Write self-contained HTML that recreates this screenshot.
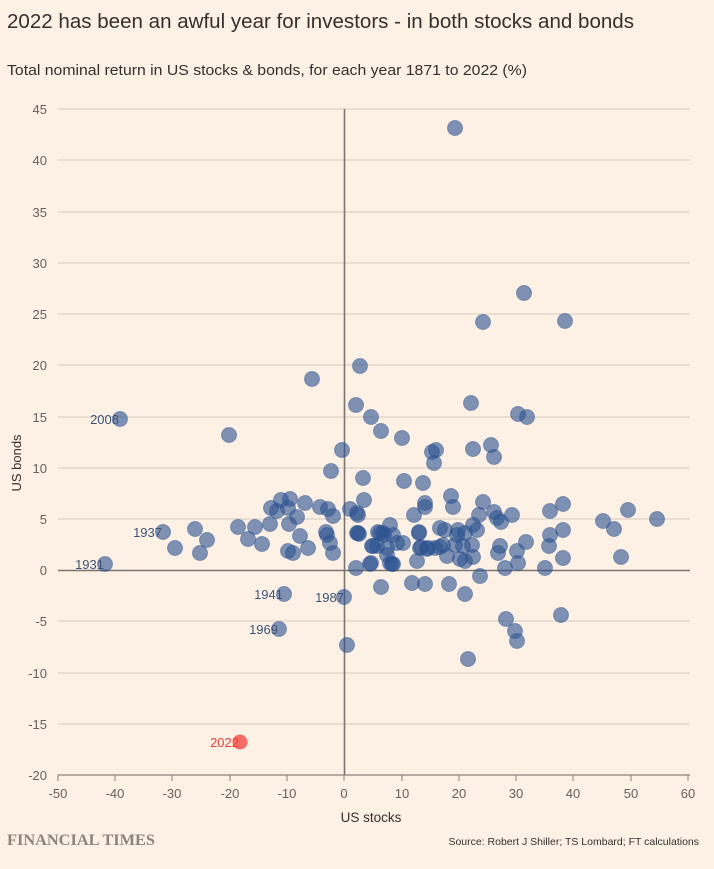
<!DOCTYPE html>
<html><head><meta charset="utf-8"><style>
html,body{margin:0;padding:0;background:#fdf1e5;}
body{width:714px;height:864px;overflow:hidden;font-family:"Liberation Sans",sans-serif;}
</style></head><body>
<svg width="714" height="864" xmlns="http://www.w3.org/2000/svg" font-family="Liberation Sans, sans-serif">
<rect width="714" height="864" fill="#fdf1e5"/>
<text x="7" y="28" font-size="20.5" fill="#33302e" textLength="627" lengthAdjust="spacingAndGlyphs">2022 has been an awful year for investors - in both stocks and bonds</text>
<text x="7" y="75" font-size="15" fill="#33302e" textLength="520" lengthAdjust="spacingAndGlyphs">Total nominal return in US stocks &amp; bonds, for each year 1871 to 2022 (%)</text>
<g stroke="#ddd3c8" stroke-width="1.3">
<line x1="58" x2="690" y1="109" y2="109"/><line x1="58" x2="690" y1="160" y2="160"/><line x1="58" x2="690" y1="212" y2="212"/><line x1="58" x2="690" y1="263" y2="263"/><line x1="58" x2="690" y1="314" y2="314"/><line x1="58" x2="690" y1="365" y2="365"/><line x1="58" x2="690" y1="417" y2="417"/><line x1="58" x2="690" y1="468" y2="468"/><line x1="58" x2="690" y1="519" y2="519"/><line x1="58" x2="690" y1="621" y2="621"/><line x1="58" x2="690" y1="673" y2="673"/><line x1="58" x2="690" y1="724" y2="724"/>
</g>
<g font-size="13" fill="#66605c" text-anchor="end">
<text x="47" y="114">45</text><text x="47" y="165">40</text><text x="47" y="217">35</text><text x="47" y="268">30</text><text x="47" y="319">25</text><text x="47" y="370">20</text><text x="47" y="422">15</text><text x="47" y="473">10</text><text x="47" y="524">5</text><text x="47" y="575">0</text><text x="47" y="626">-5</text><text x="47" y="678">-10</text><text x="47" y="729">-15</text><text x="47" y="780">-20</text>
</g>
<text transform="translate(21,463) rotate(-90)" font-size="13" fill="#33302e" text-anchor="middle">US bonds</text>
<line x1="58" x2="690" y1="775" y2="775" stroke="#8a847e" stroke-width="1.2"/>
<g stroke="#8a847e" stroke-width="1"><line x1="58" x2="58" y1="775" y2="781"/><line x1="115" x2="115" y1="775" y2="781"/><line x1="172" x2="172" y1="775" y2="781"/><line x1="230" x2="230" y1="775" y2="781"/><line x1="287" x2="287" y1="775" y2="781"/><line x1="344" x2="344" y1="775" y2="781"/><line x1="402" x2="402" y1="775" y2="781"/><line x1="459" x2="459" y1="775" y2="781"/><line x1="516" x2="516" y1="775" y2="781"/><line x1="573" x2="573" y1="775" y2="781"/><line x1="631" x2="631" y1="775" y2="781"/><line x1="688" x2="688" y1="775" y2="781"/></g>
<g font-size="13" fill="#66605c" text-anchor="middle">
<text x="58" y="798">-50</text><text x="115" y="798">-40</text><text x="172" y="798">-30</text><text x="230" y="798">-20</text><text x="287" y="798">-10</text><text x="344" y="798">0</text><text x="402" y="798">10</text><text x="459" y="798">20</text><text x="516" y="798">30</text><text x="573" y="798">40</text><text x="631" y="798">50</text><text x="688" y="798">60</text>
</g>
<text x="371" y="822" font-size="13.5" fill="#33302e" text-anchor="middle">US stocks</text>
<line x1="58" x2="690" y1="570.5" y2="570.5" stroke="#7a7570" stroke-width="1.6"/>
<line x1="344.5" x2="344.5" y1="109" y2="775" stroke="#7a7570" stroke-width="1.6"/>
<g fill="#2c5290" fill-opacity="0.6" stroke="#2c5290" stroke-opacity="0.45" stroke-width="1">
<circle cx="455" cy="128" r="7.5"/><circle cx="524" cy="293" r="7.5"/><circle cx="483" cy="322" r="7.5"/><circle cx="565" cy="321" r="7.5"/><circle cx="360" cy="366" r="7.5"/><circle cx="312" cy="379" r="7.5"/><circle cx="356" cy="405" r="7.5"/><circle cx="471" cy="403" r="7.5"/><circle cx="518" cy="414" r="7.5"/><circle cx="527" cy="417" r="7.5"/><circle cx="371" cy="417" r="7.5"/><circle cx="381" cy="431" r="7.5"/><circle cx="402" cy="438" r="7.5"/><circle cx="229" cy="435" r="7.5"/>
<circle cx="342" cy="450" r="7.5"/><circle cx="331" cy="471" r="7.5"/><circle cx="363" cy="478" r="7.5"/><circle cx="364" cy="500" r="7.5"/><circle cx="350" cy="509" r="7.5"/><circle cx="357" cy="513" r="7.5"/><circle cx="358" cy="515" r="7.5"/><circle cx="320" cy="507" r="7.5"/><circle cx="328" cy="509" r="7.5"/><circle cx="333" cy="516" r="7.5"/><circle cx="305" cy="503" r="7.5"/><circle cx="290" cy="499" r="7.5"/><circle cx="281" cy="500" r="7.5"/><circle cx="271" cy="508" r="7.5"/><circle cx="277" cy="511" r="7.5"/><circle cx="288" cy="508" r="7.5"/><circle cx="297" cy="517" r="7.5"/><circle cx="270" cy="524" r="7.5"/><circle cx="289" cy="524" r="7.5"/><circle cx="255" cy="527" r="7.5"/><circle cx="238" cy="527" r="7.5"/><circle cx="195" cy="529" r="7.5"/><circle cx="248" cy="539" r="7.5"/><circle cx="262" cy="544" r="7.5"/><circle cx="300" cy="536" r="7.5"/><circle cx="308" cy="548" r="7.5"/><circle cx="326" cy="532" r="7.5"/><circle cx="327" cy="535" r="7.5"/><circle cx="330" cy="543" r="7.5"/><circle cx="333" cy="553" r="7.5"/><circle cx="288" cy="551" r="7.5"/><circle cx="293" cy="553" r="7.5"/><circle cx="207" cy="540" r="7.5"/><circle cx="200" cy="553" r="7.5"/><circle cx="175" cy="548" r="7.5"/>
<circle cx="357" cy="533" r="7.5"/><circle cx="359" cy="534" r="7.5"/><circle cx="356" cy="568" r="7.5"/><circle cx="371" cy="563" r="7.5"/><circle cx="380" cy="533" r="7.5"/><circle cx="390" cy="525" r="7.5"/><circle cx="384" cy="535" r="7.5"/><circle cx="393" cy="535" r="7.5"/><circle cx="373" cy="546" r="7.5"/><circle cx="387" cy="548" r="7.5"/><circle cx="397" cy="543" r="7.5"/><circle cx="403" cy="543" r="7.5"/><circle cx="390" cy="563" r="7.5"/><circle cx="392" cy="564" r="7.5"/><circle cx="417" cy="561" r="7.5"/><circle cx="420" cy="548" r="7.5"/><circle cx="427" cy="549" r="7.5"/><circle cx="435" cy="548" r="7.5"/><circle cx="419" cy="533" r="7.5"/><circle cx="414" cy="515" r="7.5"/><circle cx="425" cy="503" r="7.5"/><circle cx="425" cy="507" r="7.5"/><circle cx="404" cy="481" r="7.5"/><circle cx="423" cy="483" r="7.5"/><circle cx="432" cy="452" r="7.5"/><circle cx="436" cy="450" r="7.5"/><circle cx="434" cy="463" r="7.5"/><circle cx="473" cy="449" r="7.5"/><circle cx="491" cy="445" r="7.5"/><circle cx="494" cy="457" r="7.5"/>
<circle cx="451" cy="496" r="7.5"/><circle cx="453" cy="507" r="7.5"/><circle cx="483" cy="502" r="7.5"/><circle cx="479" cy="515" r="7.5"/><circle cx="494" cy="512" r="7.5"/><circle cx="497" cy="518" r="7.5"/><circle cx="501" cy="522" r="7.5"/><circle cx="512" cy="515" r="7.5"/><circle cx="550" cy="511" r="7.5"/><circle cx="563" cy="504" r="7.5"/><circle cx="603" cy="521" r="7.5"/><circle cx="628" cy="510" r="7.5"/><circle cx="657" cy="519" r="7.5"/><circle cx="614" cy="529" r="7.5"/><circle cx="563" cy="530" r="7.5"/><circle cx="550" cy="535" r="7.5"/><circle cx="549" cy="546" r="7.5"/><circle cx="526" cy="542" r="7.5"/><circle cx="517" cy="551" r="7.5"/><circle cx="518" cy="563" r="7.5"/><circle cx="500" cy="546" r="7.5"/><circle cx="498" cy="553" r="7.5"/><circle cx="505" cy="568" r="7.5"/><circle cx="480" cy="576" r="7.5"/><circle cx="545" cy="568" r="7.5"/><circle cx="563" cy="558" r="7.5"/><circle cx="621" cy="557" r="7.5"/>
<circle cx="419" cy="532" r="7.5"/><circle cx="421" cy="547" r="7.5"/><circle cx="428" cy="548" r="7.5"/><circle cx="447" cy="556" r="7.5"/><circle cx="440" cy="547" r="7.5"/><circle cx="443" cy="545" r="7.5"/><circle cx="440" cy="528" r="7.5"/><circle cx="445" cy="530" r="7.5"/><circle cx="458" cy="530" r="7.5"/><circle cx="457" cy="535" r="7.5"/><circle cx="465" cy="533" r="7.5"/><circle cx="455" cy="545" r="7.5"/><circle cx="463" cy="546" r="7.5"/><circle cx="472" cy="545" r="7.5"/><circle cx="473" cy="525" r="7.5"/><circle cx="477" cy="530" r="7.5"/><circle cx="460" cy="559" r="7.5"/><circle cx="465" cy="561" r="7.5"/><circle cx="473" cy="557" r="7.5"/><circle cx="378" cy="532" r="7.5"/><circle cx="383" cy="533" r="7.5"/><circle cx="372" cy="546" r="7.5"/><circle cx="377" cy="546" r="7.5"/><circle cx="387" cy="555" r="7.5"/><circle cx="393" cy="564" r="7.5"/><circle cx="370" cy="564" r="7.5"/><circle cx="358" cy="533" r="7.5"/>
<circle cx="381" cy="587" r="7.5"/><circle cx="412" cy="583" r="7.5"/><circle cx="425" cy="584" r="7.5"/><circle cx="449" cy="584" r="7.5"/><circle cx="465" cy="594" r="7.5"/><circle cx="506" cy="619" r="7.5"/><circle cx="515" cy="631" r="7.5"/><circle cx="517" cy="641" r="7.5"/><circle cx="561" cy="615" r="7.5"/><circle cx="468" cy="659" r="7.5"/><circle cx="347" cy="645" r="7.5"/>
<circle cx="120" cy="419" r="7.5"/><circle cx="163" cy="532" r="7.5"/><circle cx="105" cy="564" r="7.5"/><circle cx="284" cy="594" r="7.5"/><circle cx="344" cy="597" r="7.5"/><circle cx="279" cy="629" r="7.5"/>
</g>
<circle cx="240" cy="742" r="7.5" fill="#f0403a" fill-opacity="0.75"/>
<g font-size="13" fill="#3d5478" text-anchor="end">
<text x="119" y="424">2008</text><text x="162" y="537">1937</text><text x="104" y="569">1931</text><text x="283" y="599">1941</text><text x="344" y="602">1987</text><text x="278" y="634">1969</text>
</g>
<text x="239" y="747" font-size="13" fill="#f0403a" text-anchor="end">2022</text>
<text x="7" y="845" font-family="Liberation Serif, serif" font-weight="bold" font-size="15.5" fill="#8a847e" textLength="148" lengthAdjust="spacingAndGlyphs">FINANCIAL TIMES</text>
<text x="699" y="845" font-size="10.5" fill="#33302e" text-anchor="end">Source: Robert J Shiller; TS Lombard; FT calculations</text>
</svg>
</body></html>
